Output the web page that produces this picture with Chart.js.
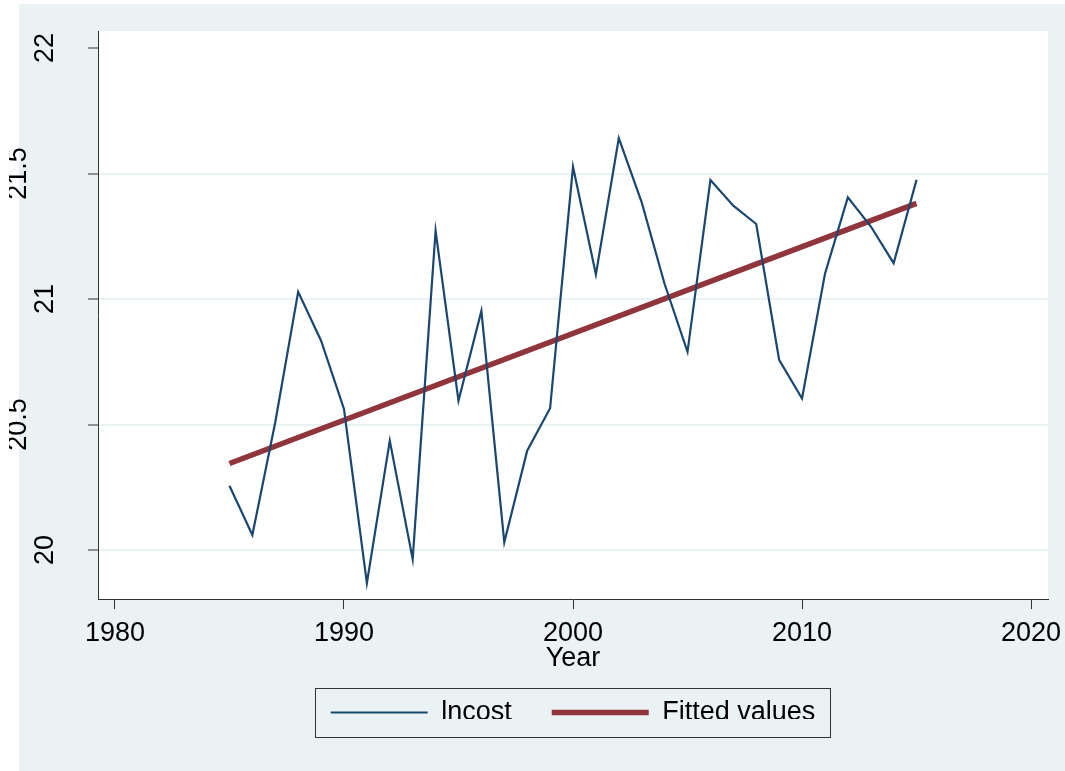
<!DOCTYPE html>
<html>
<head>
<meta charset="utf-8">
<script src="https://cdn.jsdelivr.net/npm/chart.js@4.4.1/dist/chart.umd.min.js"></script>
<style>
  html, body { margin: 0; padding: 0; background: #fff; }
  canvas { display: block; }
</style>
</head>
<body>
<canvas id="costChart" width="1065" height="771"></canvas>
<script>
// yearly log cost and its linear fit
const years = [1985, 1986, 1987, 1988, 1989, 1990, 1991, 1992, 1993, 1994, 1995,
               1996, 1997, 1998, 1999, 2000, 2001, 2002, 2003, 2004, 2005,
               2006, 2007, 2008, 2009, 2010, 2011, 2012, 2013, 2014, 2015];
const lncost = [20.256, 20.060, 20.509, 21.029, 20.834, 20.562, 19.868, 20.435, 19.964, 21.272, 20.595,
                20.953, 20.031, 20.396, 20.565, 21.527, 21.098, 21.641, 21.385, 21.060, 20.790,
                21.474, 21.372, 21.299, 20.758, 20.604, 21.100, 21.405, 21.290, 21.143, 21.475];
const fitYears = [1985, 2015];
const fitted = [20.345, 21.381];

const xTicks = [1980, 1990, 2000, 2010, 2020];
const yTicks = [20, 20.5, 21, 21.5, 22];

const NAVY = '#1a476f';
const MAROON = '#90353b';
const BG = '#eaf2f3';
const AXIS = '#333333';
const FONT = { family: "'Liberation Sans', Arial, sans-serif", size: 27 };

const toPoints = (xs, ys) => xs.map((x, i) => ({ x: x, y: ys[i] }));

// graph region + white plot region
const backdrop = {
    id: 'backdrop',
    beforeDraw(chart) {
        const { ctx, chartArea: a } = chart;
        ctx.save();
        ctx.fillStyle = '#fff';
        ctx.fillRect(0, 0, chart.width, chart.height);
        ctx.fillStyle = BG;
        ctx.fillRect(19, 4, chart.width - 19, chart.height - 4);
        ctx.fillStyle = '#fff';
        ctx.fillRect(a.left, a.top, a.right - a.left, a.bottom - a.top);
        ctx.restore();
    }
};

// vertical y labels, frame around the legend
const extras = {
    id: 'extras',
    afterDraw(chart) {
        const ctx = chart.ctx;
        const y = chart.scales.y;
        ctx.save();
        ctx.beginPath();
        ctx.rect(9, 0, chart.width, chart.height);
        ctx.clip();
        ctx.fillStyle = '#000';
        ctx.font = `${FONT.size}px ${FONT.family}`;
        ctx.textAlign = 'center';
        ctx.textBaseline = 'alphabetic';
        yTicks.forEach(v => {
            const py = y.getPixelForValue(v);
            const px = Number.isInteger(v) ? 53 : 26;
            ctx.save();
            ctx.translate(px, py);
            ctx.rotate(-Math.PI / 2);
            ctx.fillText(String(v), 0, 0);
            ctx.restore();
        });
        ctx.restore();

        const boxes = chart.legend.legendHitBoxes;
        if (!boxes || !boxes.length) return;
        let x0 = Infinity, x1 = -Infinity, cy = 0;
        boxes.forEach(b => {
            x0 = Math.min(x0, b.left);
            x1 = Math.max(x1, b.left + b.width);
            cy += b.top + b.height / 2;
        });
        cy /= boxes.length;
        ctx.save();
        ctx.strokeStyle = AXIS;
        ctx.lineWidth = 1;
        ctx.strokeRect(Math.round(x0 - 16) + 0.5, Math.round(cy - 25) + 0.5, Math.round(x1 - x0 + 30), 49);
        ctx.restore();
    }
};

new Chart(document.getElementById('costChart'), {
    type: 'line',
    data: {
        datasets: [{
            label: 'lncost',
            data: toPoints(years, lncost),
            borderColor: NAVY,
            borderWidth: 2.2,
            pointRadius: 0,
            pointStyle: 'line',
            pointBorderColor: NAVY,
            pointBorderWidth: 2.2,
            tension: 0
        }, {
            label: 'Fitted values',
            data: toPoints(fitYears, fitted),
            borderColor: MAROON,
            borderWidth: 5.5,
            borderCapStyle: 'butt',
            pointRadius: 0,
            pointStyle: 'line',
            pointBorderColor: MAROON,
            pointBorderWidth: 5.5,
            tension: 0
        }]
    },
    options: {
        responsive: false,
        animation: false,
        devicePixelRatio: 1,
        layout: { padding: { left: 0, right: 17, top: 31, bottom: 52 } },
        scales: {
            x: {
                type: 'linear',
                min: 1979.26,
                max: 2020.74,
                afterBuildTicks: s => { s.ticks = xTicks.map(v => ({ value: v })); },
                afterFit: s => { s.height = 60; s.paddingLeft = 0; s.paddingRight = 0; },
                ticks: { font: FONT, color: '#000', padding: 8, callback: v => String(v) },
                grid: { drawOnChartArea: false, drawTicks: true, tickLength: 10, tickColor: AXIS, tickWidth: 1 },
                border: { color: AXIS, width: 1 },
                title: { display: true, text: 'Year', font: FONT, color: '#000', padding: { top: 0, bottom: -16 } }
            },
            y: {
                min: 19.805,
                max: 22.068,
                afterBuildTicks: s => { s.ticks = yTicks.map(v => ({ value: v })); },
                afterFit: s => { s.width = 98; },
                ticks: { display: false },
                grid: {
                    color: c => (c.tick && c.tick.value === 22) ? 'rgba(0,0,0,0)' : BG,
                    lineWidth: 2,
                    drawTicks: true,
                    tickLength: 10,
                    tickColor: AXIS,
                    tickWidth: 1
                },
                border: { color: AXIS, width: 1 }
            }
        },
        plugins: {
            tooltip: { enabled: false },
            legend: {
                position: 'bottom',
                fullSize: false,
                maxHeight: 60,
                labels: {
                    usePointStyle: true,
                    pointStyleWidth: 97,
                    font: FONT,
                    color: '#000',
                    padding: 40
                }
            }
        }
    },
    plugins: [backdrop, extras]
});
</script>
</body>
</html>
